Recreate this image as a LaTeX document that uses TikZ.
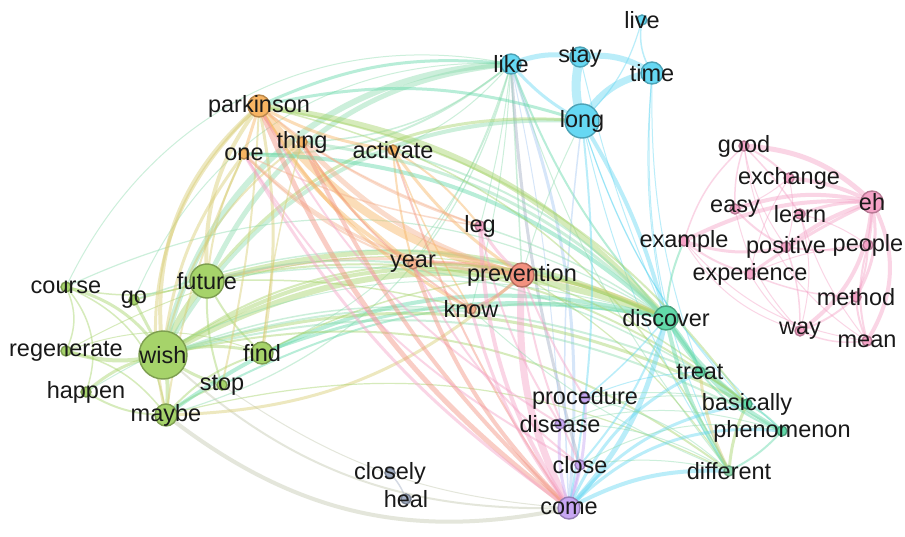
\documentclass[tikz,border=0pt]{standalone}
\usepackage{fontspec}
\setmainfont{Liberation Sans}
\usetikzlibrary{backgrounds}

\definecolor{cgreen}{HTML}{A6D36A}
\definecolor{ccyan}{HTML}{66D8F3}
\definecolor{corange}{HTML}{F7B462}
\definecolor{cpink}{HTML}{F5A3C7}
\definecolor{csalmon}{HTML}{F2917F}
\definecolor{cteal}{HTML}{62D9A9}
\definecolor{cpurple}{HTML}{C7A6F2}
\definecolor{cgrey}{HTML}{A2AEC4}
\definecolor{cmint}{HTML}{8FDCB0}
\definecolor{cblue}{HTML}{A6C8F2}
\definecolor{cgreyg}{HTML}{C4C9B0}
\definecolor{colive}{HTML}{D9CC73}
\definecolor{cpeach}{HTML}{F5B08C}

\begin{document}
\begin{tikzpicture}[x=1pt, y=-1pt,
  vert/.style={circle, inner sep=0pt, line width=1.4pt},
  lbl/.style={inner sep=0pt, text=black!90, font=\fontsize{23.5}{27}\selectfont},
  edge/.style={draw opacity=0.45, line cap=round}]

\useasboundingbox (0,0) rectangle (905,537);

% vertices: name / x / y / size / colour
\foreach \n/\x/\y/\s/\c in {
  live/642/20/10/ccyan, stay/580/57/20/ccyan, like/511/64/20/ccyan,
  time/652/73/22/ccyan, long/582/121/34/ccyan,
  parkinson/259/106/22/corange, one/244/154/10/corange,
  thing/302/142/10/corange, activate/393/150/10/corange,
  good/744/146/10/cpink, exchange/789/178/10/cpink, eh/872/202/22/cpink,
  easy/735/209/10/cpink, learn/800/214/10/cpink, example/684/241/10/cpink,
  positive/786/247/10/cpink, people/868/245/10/cpink,
  experience/750/274/10/cpink, method/856/297/10/cpink,
  way/800/331/10/cpink, mean/867/341/10/cpink,
  leg/480/226/10/cpink, year/413/264/10/cpeach,
  prevention/522/275/24/csalmon, know/471/309/10/cpeach,
  discover/666/318/24/cteal, treat/700/372/10/cteal,
  basically/747/404/10/cteal, phenomenon/782/431/10/cteal,
  different/729/471/10/cmint, procedure/585/398/10/cpurple,
  disease/560/424/10/cpurple, close/580/465/10/cpurple,
  come/569/508/22/cpurple, closely/390/473/10/cgrey, heal/406/499/10/cgrey,
  future/207/281/34/cgreen, course/66/287/10/cgreen, go/134/300/10/cgreen,
  regenerate/66/351/10/cgreen, wish/163/355/48/cgreen,
  find/262/353/22/cgreen, stop/222/385/10/cgreen,
  happen/86/392/10/cgreen, maybe/166/415/22/cgreen}
  \node[vert, minimum size=\s, fill=\c, draw=\c!75!black] (\n) at (\x,\y) {};

% labels on top of the vertices
\foreach \n in {live, stay, like, time, long, parkinson, one, thing, activate,
  good, exchange, eh, easy, learn, example, positive, people, experience,
  method, way, mean, leg, year, prevention, know, discover, treat, basically,
  phenomenon, different, procedure, disease, close, come, closely, heal,
  future, course, go, regenerate, wish, find, stop, happen, maybe}
  \node[lbl] (\n-t) at (\n) {\n};

% edges: from / to / width / colour / bend
\begin{scope}[on background layer]
\fill[white] (0,0) rectangle (905,537);
\foreach \s/\t/\w/\c/\b in {
  % long, like, stay, time
  like/stay/5/ccyan/15, stay/time/6/ccyan/20, stay/long/9/ccyan/-15,
  long/time/7/ccyan/25, like/long/3/ccyan/-10, live/time/1.5/ccyan/-20,
  live/long/1.2/ccyan/15, like/come/3/cblue/12, long/discover/4/ccyan/8,
  long/phenomenon/1/ccyan/-15, long/different/1/ccyan/-10,
  long/basically/1/ccyan/-12, like/discover/2/cteal/-10,
  like/prevention/1.5/cmint/0, like/different/1/cmint/-10,
  stay/discover/1/ccyan/-5, time/treat/1/ccyan/-10,
  like/close/3/cgrey/-6, like/year/1/cmint/8, like/know/1/cmint/6,
  like/leg/1/cmint/4, like/disease/1/cblue/4, like/one/2/cmint/20,
  like/thing/1.5/cmint/18, like/activate/1/cmint/12, like/maybe/1.2/cmint/30,
  like/find/1/cmint/25, long/prevention/1/cmint/-5, long/come/1.5/cblue/-5,
  time/discover/1/ccyan/-8, time/different/1/ccyan/-15,
  % wish, future and their neighbours
  wish/future/6/cgreen/10, wish/course/3/cgreen/-20, wish/go/3/cgreen/0,
  wish/regenerate/4/cgreen/15, wish/happen/3/cgreen/-15,
  wish/maybe/4/cgreen/10, wish/find/3/cgreen/15, wish/stop/3/cgreen/-10,
  course/regenerate/1.5/cgreen/25, course/happen/1.5/cgreen/30,
  course/maybe/1.5/cgreen/30, course/future/1.5/cgreen/-15,
  regenerate/maybe/1.5/cgreen/20, happen/maybe/2/cgreen/-15,
  go/future/1.5/cgreen/0, future/find/2/cgreen/-10, maybe/find/2/cgreen/15,
  maybe/stop/2/cgreen/10, future/stop/2/cgreen/-10, regenerate/find/1/cgreen/20,
  wish/like/6/cmint/38, future/like/5/cmint/30, wish/long/4/cmint/32,
  future/long/3/cgreen/28, wish/discover/6/cgreen/25,
  future/discover/5/cgreen/20, maybe/discover/4/cteal/25,
  find/discover/3/cteal/15, stop/discover/2/cteal/18,
  wish/prevention/4/cgreen/20, future/prevention/3/cpeach/12,
  wish/basically/3/cgreen/22, wish/different/2/cgreen/25,
  wish/treat/2/cmint/20, wish/phenomenon/2/cmint/22, future/year/2/cmint/10,
  maybe/come/4/cgreyg/-25, wish/come/2/cgreyg/-22,
  maybe/prevention/3/colive/-20, go/discover/1.5/cmint/22,
  course/discover/1.2/cmint/28, happen/discover/1/cmint/24,
  regenerate/discover/1/cgreen/26, wish/year/2/cgreen/15,
  wish/know/1.5/cmint/12, future/know/1.5/cgreen/8,
  maybe/different/1.2/cgreen/20, find/prevention/1.5/cgreen/10,
  stop/come/1/cgreyg/-15, go/like/1/cmint/35, course/like/1/cmint/38,
  future/basically/2/cgreen/24, future/treat/1.5/cmint/20,
  % parkinson, one, thing, activate
  parkinson/one/3/corange/0, parkinson/thing/3/corange/0,
  parkinson/activate/3/corange/-10, parkinson/prevention/8/corange/-20,
  parkinson/year/4/corange/-15, parkinson/know/3/corange/-15,
  thing/prevention/5/cpeach/-15, thing/year/3/corange/-10,
  activate/prevention/3/corange/-10, activate/year/2/corange/-5,
  activate/leg/2/corange/10, one/prevention/3/cpeach/-20,
  parkinson/future/4/colive/-20, parkinson/wish/4/colive/-28,
  parkinson/maybe/3/colive/-30, parkinson/find/3/colive/10,
  parkinson/stop/2/colive/5, one/wish/3/colive/-15, one/future/2/colive/-10,
  one/maybe/2/colive/-8, thing/wish/2/colive/-20,
  parkinson/come/5/csalmon/-15, thing/come/4/csalmon/-10,
  one/come/3/cpink/-12, activate/come/2/csalmon/-8,
  parkinson/discover/6/cgreen/20, parkinson/like/3/cteal/15,
  parkinson/long/3/cteal/15, one/discover/4/cteal/20,
  thing/discover/3/cmint/18, activate/discover/2/cmint/15,
  one/leg/1.5/cpeach/-8, thing/leg/1.5/cpeach/-5, parkinson/leg/2/cpeach/-10,
  one/year/2/cpeach/-12, thing/know/2/csalmon/-12,
  parkinson/disease/2/cpink/-15, one/close/2/cpink/-14,
  thing/find/1.5/colive/-5, activate/know/1.5/corange/-5,
  parkinson/different/1.5/cgreen/25, parkinson/basically/2/cgreen/22,
  % prevention and its neighbours
  prevention/year/3/csalmon/-10, prevention/leg/3/cpink/10,
  prevention/know/3/csalmon/10, prevention/come/7/cpink/-15,
  prevention/discover/4/colive/10, leg/come/4/cpink/-15,
  year/come/4/csalmon/-12, know/come/3/cpink/-10,
  year/discover/3/cgreen/12, know/discover/2/cmint/10,
  prevention/procedure/2/cpink/-5, year/know/2/cpeach/10,
  prevention/basically/1.5/cgreen/10, prevention/different/1.2/cgreen/12,
  leg/discover/1.5/cmint/8, leg/disease/2/cpink/-10,
  year/close/2/cpink/-12, know/different/1/cmint/-10,
  prevention/close/2/cpink/-8,
  % discover, come and their neighbours
  discover/treat/3/cteal/10, discover/basically/4/cteal/-10,
  discover/phenomenon/4/cteal/-15, discover/different/4/cteal/-10,
  discover/come/5/ccyan/15, discover/example/2/cteal/10,
  discover/close/2/ccyan/10, discover/procedure/1.5/ccyan/5,
  come/procedure/3/cpurple/-10, come/disease/3/cpurple/10,
  come/close/3/cpurple/0, come/treat/3/ccyan/20,
  come/basically/3/ccyan/20, come/phenomenon/3/ccyan/25,
  come/different/4/ccyan/15, come/long/2/ccyan/-8,
  close/different/1/cmint/10, procedure/basically/1/cmint/10,
  disease/phenomenon/1/cmint/15, disease/different/1/cmint/15,
  basically/different/3/cgreen/-10, treat/different/3/colive/-10,
  basically/phenomenon/2/cteal/10, treat/phenomenon/2/cteal/-15,
  phenomenon/different/2/cteal/10, treat/basically/2/cgreen/5,
  procedure/different/1/cmint/15, disease/basically/1/cmint/18,
  close/phenomenon/1/cmint/20, procedure/treat/1/ccyan/10,
  % eh and its neighbours
  eh/good/5/cpink/-20, eh/exchange/4/cpink/-10, eh/easy/4/cpink/-15,
  eh/learn/3/cpink/-10, eh/example/4/cpink/-15, eh/positive/4/cpink/-10,
  eh/people/3/cpink/5, eh/method/3/cpink/20, eh/way/4/cpink/25,
  eh/mean/4/cpink/30, eh/experience/3/cpink/-5,
  good/exchange/2/cpink/10, good/easy/1.5/cpink/-10, good/learn/1.5/cpink/5,
  good/example/1.5/cpink/-15, exchange/easy/1/cpink/10,
  example/positive/3/cpink/-15, example/experience/2/cpink/-10,
  easy/positive/2/cpink/-10, positive/people/2/cpink/-10,
  positive/way/1.5/cpink/10, learn/way/1/cpink/15,
  experience/method/1.5/cpink/-10, method/way/2/cpink/10,
  method/mean/2/cpink/-10, people/mean/2/cpink/-15, people/method/2/cpink/10,
  way/mean/1.5/cpink/-15, example/way/1/cpink/-20, experience/way/1/cpink/-10,
  learn/people/1/cpink/10, exchange/positive/1/cpink/15,
  good/positive/1/cpink/-12, exchange/experience/1/cpink/-10,
  easy/way/1/cpink/-15, learn/mean/1/cpink/-10, good/mean/1/cpink/-25,
  example/mean/1/cpink/-20, experience/people/1/cpink/10,
  closely/heal/1.5/cgrey/10}
  \draw[edge, line width=\w, draw=\c] (\s.center) to[bend left=\b] (\t.center);
\end{scope}
\end{tikzpicture}
\end{document}
